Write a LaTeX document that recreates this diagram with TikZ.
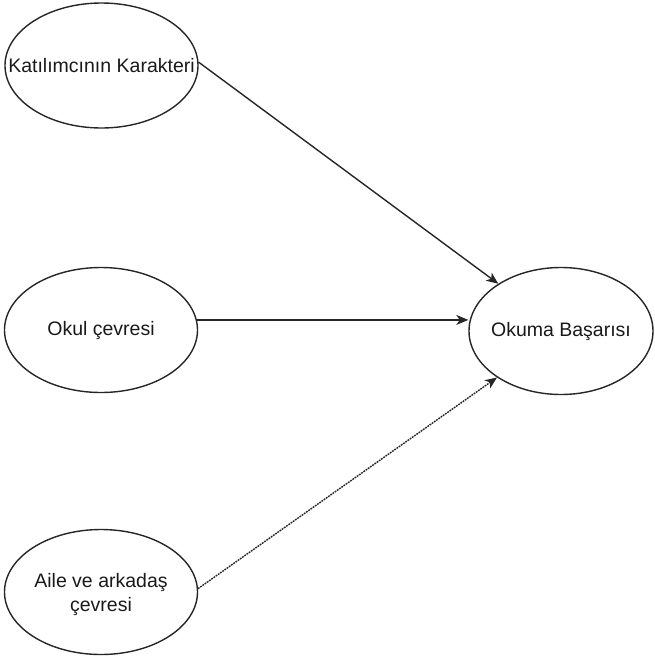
\documentclass[tikz,border=0pt]{standalone}
\usepackage{fontspec}
\setmainfont{Liberation Sans}
\usetikzlibrary{shapes.geometric,arrows.meta}

\begin{document}
\begin{tikzpicture}[x=1pt,y=1pt]
        \tikzstyle{every node}+=[inner sep=0pt]
        \tikzstyle{oval}=[draw=black!85,ellipse,line width=1.4pt,minimum width=193,minimum height=125]
        \tikzstyle{txt}=[font=\fontsize{19.5}{24}\selectfont,align=center,text=black!90]
        \tikzstyle{pijl}=[black!85,line width=1.4pt,-{Stealth[length=12pt,width=10pt,inset=3.5pt]}]
        \useasboundingbox (0,0) rectangle (654,-662);
        \node [oval] (kar) at (101.5,-65.5) {};
        \node [txt] (karT) at (kar) {Katılımcının Karakteri};
        \node [oval] (okul) at (101,-330) {};
        \node [txt] (okulT) at (okul) {Okul çevresi};
        \node [oval] (aile) at (101,-592) {};
        \node [txt] (aileT) at ([yshift=-2]aile) {Aile ve arkadaş\\çevresi};
        \node [oval,minimum width=184,minimum height=127] (basari) at (561,-331) {};
        \node [txt] (basariT) at (basari) {Okuma Başarısı};
        \draw [pijl] (kar.2) -- (basari.143);
        \draw [pijl] (okul.6) -- (okul.6 -| basari.west);
        \draw [pijl,dash pattern=on 1.8pt off 0.9pt] (aile.2) -- (basari.216);
    \end{tikzpicture}
\end{document}
